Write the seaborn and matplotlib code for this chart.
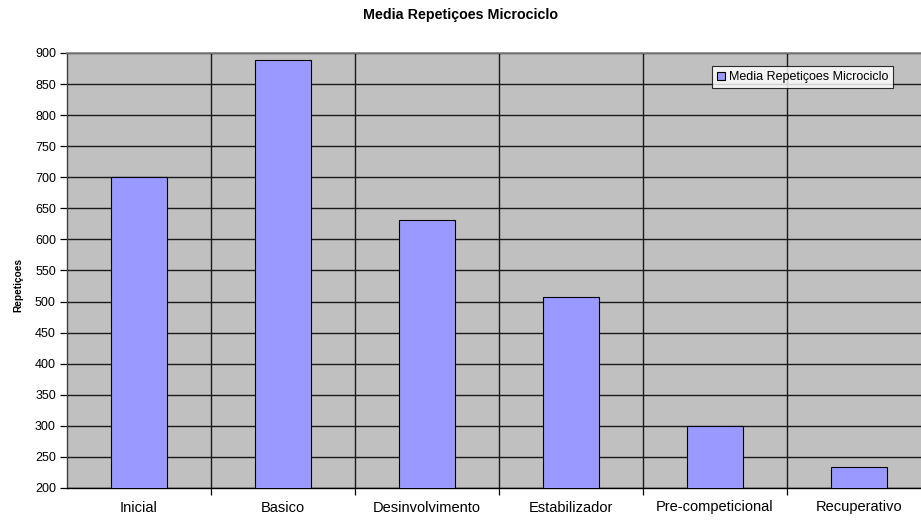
import matplotlib
matplotlib.use("Agg")
import matplotlib.pyplot as plt
from matplotlib.ticker import MultipleLocator, FixedLocator
import seaborn as sns
import pandas as pd

categories = ["Inicial", "Basico", "Desinvolvimento", "Estabilizador",
              "Pre-competicional", "Recuperativo"]
values = [700, 889, 631, 507, 300, 233]
series_name = "Media Repetiçoes Microciclo"

df = pd.DataFrame({"Microciclo": categories, "Repetiçoes": values})

sns.set_theme(style="white")
plt.rcParams["font.family"] = ["Liberation Sans", "DejaVu Sans"]
plt.rcParams["text.color"] = "black"
plt.rcParams["axes.labelcolor"] = "black"

W, H = 921, 520
fig = plt.figure(figsize=(W / 100, H / 100), dpi=100)
# plot area runs slightly past the right edge of the figure
ax = fig.add_axes([67 / W, 32 / H, 864 / W, 435 / H])
ax.set_facecolor("#C0C0C0")

sns.barplot(data=df, x="Microciclo", y="Repetiçoes", color="#9999FF",
            saturation=1, width=0.39, edgecolor="black", linewidth=0.8,
            label=series_name, ax=ax, zorder=3)

ax.set_ylim(200, 900)
ax.set_xlim(-0.5, len(categories) - 0.5)
ax.yaxis.set_major_locator(MultipleLocator(50))

# horizontal grid at each y tick, vertical dividers between categories
ax.set_axisbelow(True)
ax.grid(axis="y", which="major", color="#1a1a1a", linewidth=1.0, zorder=1)
ax.xaxis.set_minor_locator(FixedLocator([i + 0.5 for i in range(len(categories) - 1)]))
ax.grid(axis="x", which="minor", color="#1a1a1a", linewidth=1.0, zorder=1)
ax.grid(axis="x", which="major", visible=False)

ax.tick_params(axis="x", which="major", length=0, labelsize=10.5, pad=9,
               colors="black")
ax.tick_params(axis="x", which="minor", length=5, width=0.9, color="black",
               direction="out", bottom=True)
ax.tick_params(axis="y", which="major", length=5, width=0.9, color="black",
               direction="out", left=True, labelsize=9, labelcolor="black", pad=3)

for side in ("top", "right"):
    ax.spines[side].set_color("#808080")
    ax.spines[side].set_linewidth(1.2)
ax.spines["left"].set_color("#404040")
ax.spines["left"].set_linewidth(1.0)
ax.spines["bottom"].set_color("black")
ax.spines["bottom"].set_linewidth(1.0)

ax.set_xlabel("")
ax.set_ylabel("Repetiçoes", fontsize=7.3, fontweight="bold", color="black")
ax.yaxis.set_label_coords(23 / W, (H - 285) / H, transform=fig.transFigure)

fig.suptitle(series_name, fontsize=10.3, fontweight="bold", color="black",
             y=(H - 15) / H, va="center")

leg = ax.legend(loc="upper right", bbox_to_anchor=(893 / W, (H - 66) / H),
                bbox_transform=fig.transFigure, fontsize=9,
                frameon=True, fancybox=False, handlelength=0.6, handleheight=0.6,
                handletextpad=0.3, borderpad=0.4, borderaxespad=0)
leg.get_frame().set_edgecolor("black")
leg.get_frame().set_facecolor("white")
leg.get_frame().set_linewidth(0.8)
for t in leg.get_texts():
    t.set_color("black")

fig.savefig("out.png", dpi=100)
